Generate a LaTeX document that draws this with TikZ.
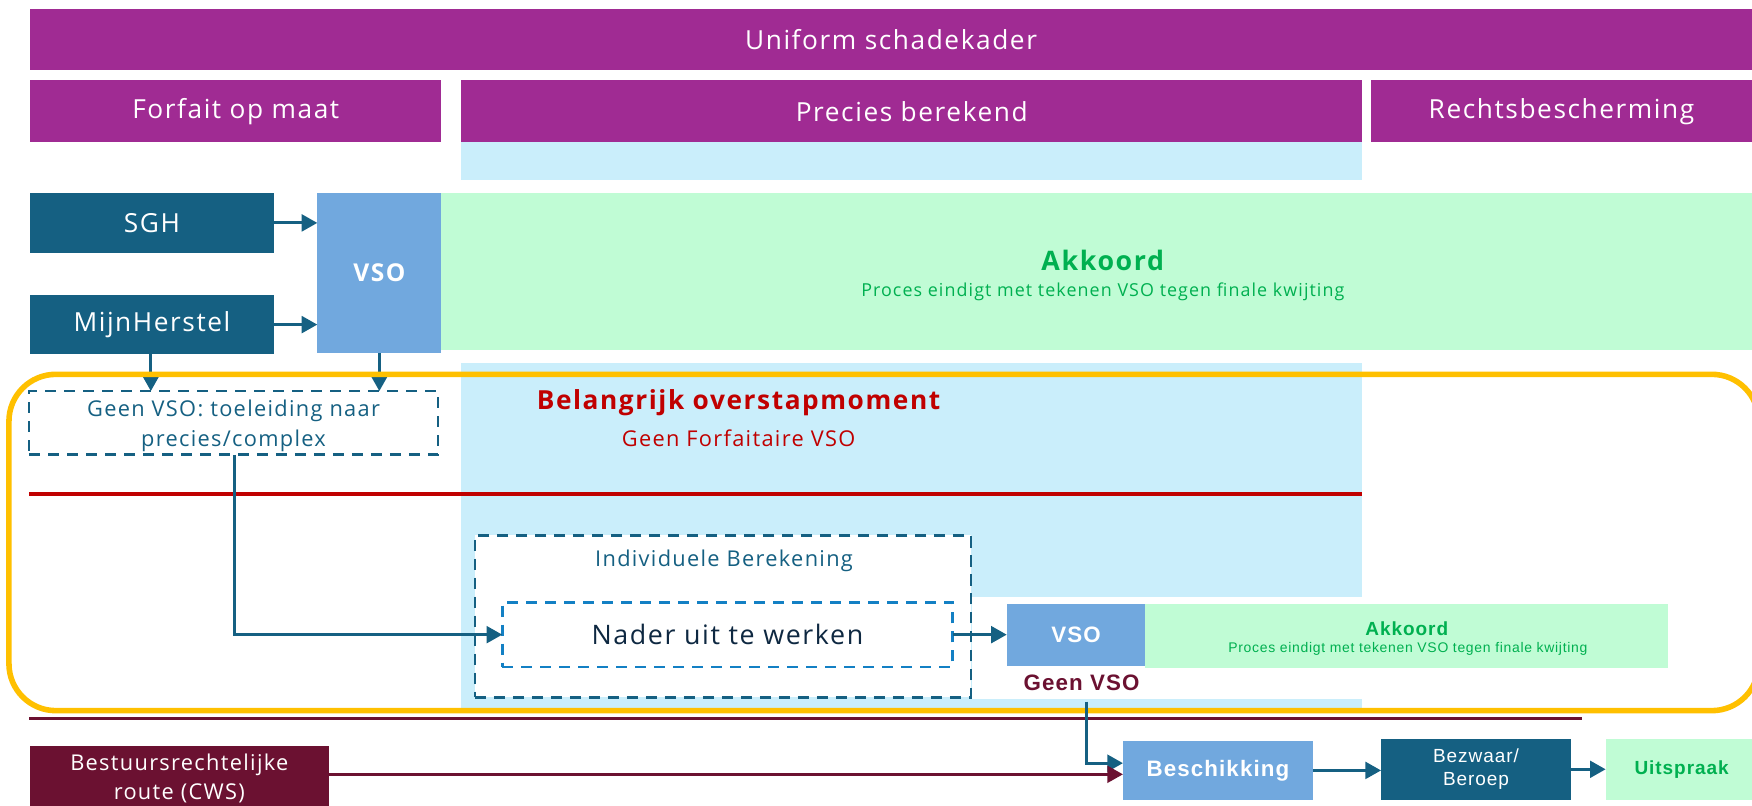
\documentclass[tikz,border=0pt]{standalone}
\usepackage{fontspec}
\setmainfont{Open Sans}[LetterSpace=6]
\newfontfamily\narrowf{Liberation Sans}[LetterSpace=5]
\usetikzlibrary{arrows.meta}
\definecolor{purp}{HTML}{A02B93}
\definecolor{teal}{HTML}{156082}
\definecolor{lblue}{HTML}{CAEEFB}
\definecolor{vsob}{HTML}{71A8DE}
\definecolor{lgreen}{HTML}{C0FCD5}
\definecolor{gtext}{HTML}{00B050}
\definecolor{redc}{HTML}{C00000}
\definecolor{maroon}{HTML}{6B1131}
\definecolor{orng}{HTML}{FFC000}
\definecolor{innerb}{HTML}{1380C4}
\definecolor{navy}{HTML}{0E2841}
\newcommand{\fs}[1]{\fontsize{#1}{#1}\selectfont}
\tikzset{
  bx/.style={inner sep=0pt, outer sep=0pt, align=center},
  hdr/.style={bx, fill=purp, text=white, font=\fs{23.5}},
  tealbox/.style={bx, fill=teal, text=white},
  vsobox/.style={bx, fill=vsob, text=white},
  greenbox/.style={bx, fill=lgreen},
  arr/.style={draw=teal, line width=2.6pt, -{Triangle[length=14pt,width=15pt]}},
  marr/.style={draw=maroon, line width=2.6pt, -{Triangle[length=14pt,width=15pt]}},
  dbox/.style={bx, draw=teal, line width=2.4pt, dash pattern=on 10pt off 7pt},
}
\begin{document}
\begin{tikzpicture}[x=1pt,y=-1pt]
\useasboundingbox (0,0) rectangle (1568,721);
\clip (0,0) rectangle (1568,721);
% headers
\node[hdr, minimum width=1541, minimum height=55] (top) at (797.5,35.5) {Uniform schadekader};
\node[hdr, minimum width=368, minimum height=55] (forf) at (211,99.5) {Forfait op maat};
\node[hdr, minimum width=806, minimum height=55] (prec) at (816,99.5) {Precies berekend};
\node[hdr, minimum width=341, minimum height=55] (recht) at (1397.5,99.5) {Rechtsbescherming};
\fill[lblue] (413,127) rectangle (1219,161);
% light blue region
\fill[lblue] (413,325) rectangle (1219,634);
\fill[white] (870,534) rectangle (1219,626);
% green akkoord band
\fill[lgreen] (395,173) rectangle (1568,313);
\node[bx, text=gtext, font=\bfseries\fs{24}] (akk) at (987,233) {Akkoord};
\node[bx, text=gtext, font=\fs{16}] (akksub) at (987,261) {Proces eindigt met tekenen VSO tegen finale kwijting};
% sources
\node[tealbox, font=\fs{23.5}, minimum width=218, minimum height=53] (sgh) at (136,199.5) {SGH};
\node[tealbox, font=\fs{23.5}, minimum width=218, minimum height=53] (mijn) at (136,290.5) {MijnHerstel};
\node[vsobox, font=\bfseries\fs{22}, minimum width=111, minimum height=143] (vso) at (339.5,244.5) {VSO};
\draw[arr] (sgh.east) -- (sgh.east -| vso.west);
\draw[arr] (mijn.east) -- (mijn.east -| vso.west);
% geen vso box
\node[dbox, text=teal, font=\fs{19.5}, minimum width=366, minimum height=57] (geen) at (209,378.5) {};
\node[bx, text=teal, font=\fs{19.5}] (geent) at (209,381) {Geen VSO: toeleiding naar\\[7pt]precies/complex};
\draw[arr] (mijn.south -| 135,0) -- (135,350);
\draw[arr] (vso.south) -- (vso.south |- geen.north);
% red texts and line
\node[bx, text=redc, font=\bfseries\fs{23.5}] (bel) at (661,360) {Belangrijk overstapmoment};
\node[bx, text=redc, font=\fs{19.5}] (forfv) at (661,392) {Geen Forfaitaire VSO};
\draw[redc, line width=3pt] (26,442) -- (1219,442);
% individuele berekening
\node[dbox, fill=white, minimum width=444, minimum height=145] (ind) at (647,551.5) {};
\node[bx, text=teal, font=\fs{19.5}] (indt) at (648,502) {Individuele Berekening};
\node[dbox, draw=innerb, minimum width=403, minimum height=58, text=navy, font=\fs{24}] (nader) at (651,568) {Nader uit te werken};
\draw[arr] (geen.south -| 210,0) |- (nader.west);
% small VSO / akkoord
\node[vsobox, font=\narrowf\bfseries\fs{20}, minimum width=124, minimum height=55] (vso2) at (963,568.5) {VSO};
\node[greenbox, minimum width=468, minimum height=57] (akk2) at (1259,569) {};
\node[bx, text=gtext, font=\narrowf\bfseries\fs{17}] (akk2t) at (1259,563) {Akkoord};
\node[bx, text=gtext, font=\narrowf\fs{12.5}] (akk2s) at (1260,581) {Proces eindigt met tekenen VSO tegen finale kwijting};
\draw[arr] (nader.east) -- (vso2.west |- nader.east);
\node[bx, text=maroon, font=\narrowf\bfseries\fs{20}] (geenvso) at (968,611) {Geen VSO};
% orange rounded frame
\draw[orng, line width=5pt, rounded corners=42pt] (8,335) rectangle (1574,636);
% maroon line
\draw[maroon, line width=3pt] (26,643) -- (1416,643);
% bottom row
\node[vsobox, font=\narrowf\bfseries\fs{20}, minimum width=170, minimum height=53] (besch) at (1090,689.5) {Beschikking};
\node[tealbox, font=\narrowf\fs{17}, minimum width=170, minimum height=55] (bezw) at (1321,688.5) {Bezwaar/\\[4pt]Beroep};
\node[greenbox, text=gtext, font=\narrowf\bfseries\fs{17}, minimum width=136, minimum height=55] (uits) at (1505,688.5) {Uitspraak};
\node[bx, fill=maroon, text=white, font=\fs{19.5}, minimum width=267, minimum height=57] (best) at (160.5,696.5) {Bestuursrechtelijke\\[6pt]route (CWS)};
\coordinate (c1) at (972,628);
\draw[arr] (c1) -- (972,683) -- (besch.west |- 0,683);
\draw[marr] (best.east |- 0,693) -- (besch.west |- 0,693);
\draw[arr] (besch.east) -- (bezw.west |- besch.east);
\draw[arr] (bezw.east) -- (uits.west |- bezw.east);
\end{tikzpicture}
\end{document}
